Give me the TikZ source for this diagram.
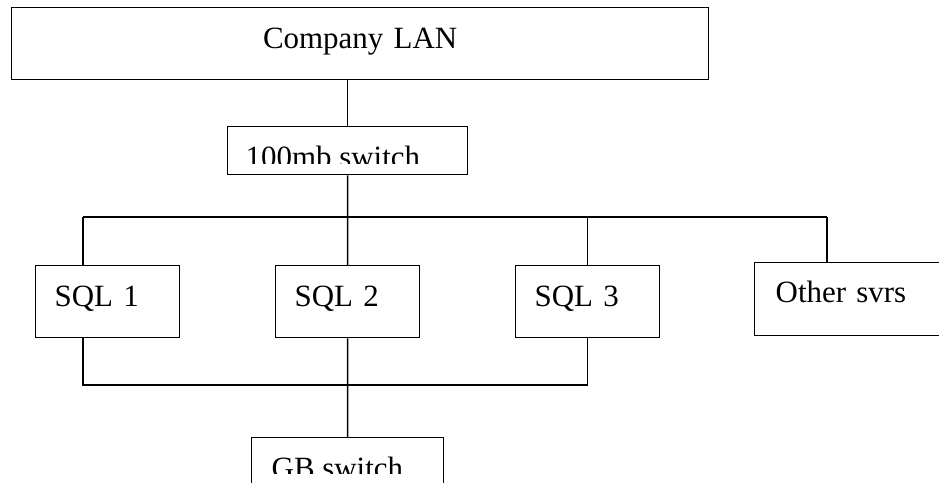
\documentclass[tikz,border=0pt]{standalone}
\usepackage{fontspec}
\setmainfont{Liberation Serif}
\usepackage{tikz}

\tikzset{
  box/.style={draw, line width=0.8pt, anchor=north west, inner sep=0pt},
  srvbox/.style={box, text width=2.12cm, inner xsep=0.38cm, text height=0.82cm, text depth=0.62cm, align=left},
  swbox/.style={box, minimum width=#1, minimum height=0.96cm},
  swlbl/.style={anchor=base west, inner sep=0pt}
}

\begin{document}
\begin{tikzpicture}[x=0.02cm, y=-0.02cm, line width=0.8pt, font=\fontsize{17.6}{20}\selectfont]

\useasboundingbox (0,0) rectangle (939,483);
\clip (0,0) rectangle (939,483);

% === Top: LAN and 100mb switch ===
\node[box, text width=13.94cm, align=center, text height=0.82cm, text depth=0.62cm] (lan) at (11,7) {Company LAN};
\node[swbox=4.8cm] (sw100) at (227,126) {};
\begin{scope}
  \clip (228,127) rectangle (466,163);
  \node[swlbl] (sw100txt) at (245,167) {100mb switch};
\end{scope}

% === Servers ===
\node[srvbox] (sql1) at (35,265) {SQL 1};
\node[srvbox] (sql2) at (275,265) {SQL 2};
\node[srvbox] (sql3) at (515,265) {SQL 3};
\node[srvbox, text width=3.16cm, inner xsep=0.42cm, text height=0.8cm, text depth=0.66cm] (other) at (754,262) {Other svrs};

% === Bottom: GB switch ===
\node[swbox=3.84cm] (gb) at (251,437) {};
\begin{scope}
  \clip (252,438) rectangle (442,473);
  \node[swlbl] (gbtxt) at (271,478) {GB switch};
\end{scope}

% Upper bus
\coordinate (busA) at (83,217);
\coordinate (busD) at (827,217);
\draw (sw100.north) -- (sw100.north |- lan.south);
\draw (sw100.south) -- (sql2.north);
\draw (busA) -- (busD);
\draw (busA) -- (busA |- sql1.north);
\draw (sql3.north |- busA) -- (sql3.north);
\draw (busD) -- (busD |- other.north);

% Lower bus
\coordinate (lowA) at (83,385);
\draw (lowA |- sql1.south) -- (lowA) -- (lowA -| sql3.south) -- (sql3.south);
\draw (sql2.south) -- (gb.north);

\end{tikzpicture}
\end{document}
